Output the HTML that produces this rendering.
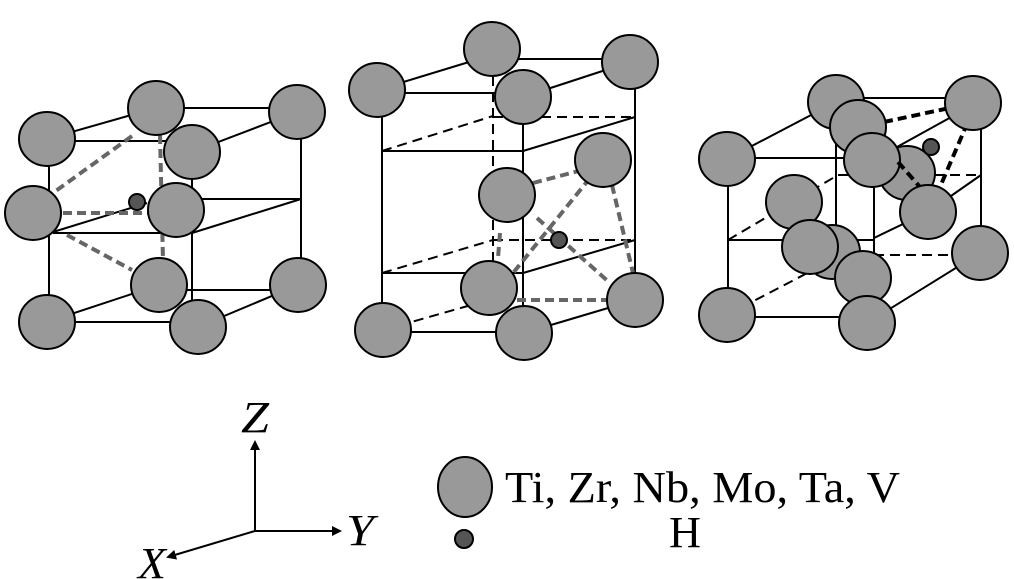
<!DOCTYPE html>
<html><head><meta charset="utf-8"><style>html,body{margin:0;padding:0;background:#fff}svg{display:block}</style></head>
<body>
<svg width="1014" height="579" viewBox="0 0 1014 579" xmlns="http://www.w3.org/2000/svg">
<defs>
<marker id="ah" markerWidth="10" markerHeight="10" refX="8" refY="5" orient="auto" markerUnits="userSpaceOnUse"><path d="M0,0 L10,5 L0,10 z" fill="#000"/></marker>
</defs>
<g fill="#999" stroke="#000" stroke-width="2">
<!-- LEFT -->
<g fill="none" stroke="#000" stroke-width="2">
<line x1="49" y1="139" x2="49" y2="322"/><line x1="192" y1="152" x2="192" y2="327"/><line x1="301" y1="112" x2="301" y2="285"/>
<line x1="47" y1="141" x2="192" y2="141"/><line x1="47" y1="139" x2="156" y2="108"/><line x1="156" y1="108" x2="297" y2="108"/><line x1="192" y1="152" x2="297" y2="112"/>
<line x1="53" y1="233" x2="192" y2="233"/><line x1="192" y1="233" x2="301" y2="199"/><line x1="176" y1="199" x2="301" y2="199"/><line x1="53" y1="232" x2="147" y2="203"/>
<line x1="47" y1="322" x2="198" y2="322"/><line x1="47" y1="322" x2="159" y2="285"/><line x1="159" y1="290" x2="298" y2="290"/><line x1="198" y1="327" x2="298" y2="285"/>
</g>
<g fill="none" stroke="#666" stroke-width="4" stroke-dasharray="9 5">
<line x1="132" y1="136" x2="53" y2="193"/><line x1="160" y1="135" x2="163" y2="260"/><line x1="63" y1="213" x2="150" y2="213"/><line x1="67" y1="235" x2="132" y2="270"/>
</g>
<ellipse cx="156" cy="108" rx="28" ry="27"/><ellipse cx="297" cy="112" rx="28" ry="27"/><ellipse cx="47" cy="139" rx="28" ry="27"/><ellipse cx="192" cy="152" rx="28" ry="27"/>
<ellipse cx="33" cy="213" rx="28" ry="27"/><ellipse cx="176" cy="210" rx="28" ry="27"/><circle cx="137" cy="202" r="8" fill="#555"/>
<ellipse cx="159" cy="285" rx="28" ry="27"/><ellipse cx="298" cy="285" rx="28" ry="27"/><ellipse cx="47" cy="322" rx="28" ry="27"/><ellipse cx="198" cy="327" rx="28" ry="27"/>
<!-- MIDDLE -->
<g fill="none" stroke="#000" stroke-width="2">
<line x1="382" y1="90" x2="382" y2="330"/><line x1="523" y1="97" x2="523" y2="333"/><line x1="635" y1="62" x2="635" y2="300"/>
<line x1="377" y1="93" x2="523" y2="93"/><line x1="377" y1="90" x2="492" y2="55"/><line x1="492" y1="59" x2="630" y2="59"/><line x1="523" y1="97" x2="630" y2="62"/>
<line x1="382" y1="151" x2="523" y2="151"/><line x1="523" y1="151" x2="635" y2="117"/>
<line x1="382" y1="273" x2="523" y2="273"/><line x1="523" y1="273" x2="635" y2="240"/>
<line x1="383" y1="332" x2="524" y2="332"/><line x1="524" y1="333" x2="635" y2="300"/>
</g>
<g fill="none" stroke="#000" stroke-width="2" stroke-dasharray="10 6">
<line x1="382" y1="151" x2="493" y2="116"/><line x1="493" y1="117" x2="635" y2="117"/><line x1="493" y1="76" x2="493" y2="262"/>
<line x1="382" y1="273" x2="493" y2="240"/><line x1="493" y1="240" x2="635" y2="240"/><line x1="383" y1="330" x2="489" y2="300"/>
</g>
<g fill="none" stroke="#666" stroke-width="4" stroke-dasharray="9 5">
<line x1="533" y1="183" x2="590" y2="168"/><line x1="590" y1="178" x2="513" y2="273"/><line x1="537" y1="218" x2="610" y2="283"/>
<line x1="612" y1="185" x2="633" y2="273"/><line x1="500" y1="233" x2="498" y2="258"/><line x1="517" y1="300" x2="607" y2="300"/>
</g>
<ellipse cx="492" cy="49" rx="28" ry="27"/><ellipse cx="630" cy="62" rx="28" ry="27"/><ellipse cx="377" cy="90" rx="28" ry="27"/><ellipse cx="523" cy="97" rx="28" ry="27"/>
<ellipse cx="603" cy="160" rx="28" ry="27"/><ellipse cx="507" cy="195" rx="28" ry="27"/><circle cx="559" cy="240" r="8" fill="#555"/>
<ellipse cx="489" cy="288" rx="28" ry="27"/><ellipse cx="635" cy="300" rx="28" ry="27"/><ellipse cx="383" cy="330" rx="28" ry="27"/><ellipse cx="524" cy="333" rx="28" ry="27"/>
<!-- RIGHT -->
<g fill="none" stroke="#000" stroke-width="2">
<line x1="728" y1="159" x2="728" y2="315"/><line x1="836" y1="140" x2="836" y2="240"/><line x1="874" y1="185" x2="874" y2="257"/><line x1="981" y1="103" x2="981" y2="253"/>
<line x1="727" y1="159" x2="836" y2="102"/><line x1="836" y1="98" x2="973" y2="98"/><line x1="727" y1="158" x2="872" y2="158"/><line x1="897" y1="147" x2="973" y2="105"/>
<line x1="728" y1="240" x2="874" y2="240"/><line x1="874" y1="238" x2="928" y2="212"/><line x1="928" y1="212" x2="981" y2="175"/>
<line x1="728" y1="317" x2="867" y2="317"/><line x1="867" y1="323" x2="980" y2="253"/>
</g>
<g fill="none" stroke="#000" stroke-width="2" stroke-dasharray="10 6">
<line x1="728" y1="240" x2="838" y2="175"/><line x1="838" y1="175" x2="978" y2="175"/><line x1="874" y1="255" x2="980" y2="255"/><line x1="727" y1="315" x2="836" y2="258"/>
</g>
<g fill="none" stroke="#000" stroke-width="4" stroke-dasharray="9 5">
<line x1="884" y1="122" x2="973" y2="103"/><line x1="973" y1="110" x2="940" y2="187"/><line x1="890" y1="155" x2="920" y2="190"/>
</g>
<ellipse cx="836" cy="102" rx="28" ry="27"/><ellipse cx="973" cy="103" rx="28" ry="27"/><ellipse cx="727" cy="159" rx="28" ry="27"/>
<ellipse cx="907" cy="173" rx="28" ry="27"/><ellipse cx="858" cy="127" rx="28" ry="27"/><ellipse cx="872" cy="160" rx="28" ry="27"/>
<circle cx="931" cy="147" r="8" fill="#555"/>
<g fill="none" stroke="#000" stroke-width="4" stroke-dasharray="9 5"><line x1="898" y1="162" x2="920" y2="187"/></g>
<ellipse cx="928" cy="212" rx="28" ry="27"/><ellipse cx="794" cy="202" rx="28" ry="27"/>
<ellipse cx="832" cy="252" rx="28" ry="27"/><ellipse cx="810" cy="247" rx="28" ry="27"/><ellipse cx="863" cy="278" rx="28" ry="27"/>
<ellipse cx="980" cy="253" rx="28" ry="27"/><ellipse cx="727" cy="315" rx="28" ry="27"/><ellipse cx="867" cy="323" rx="28" ry="27"/>
<!-- LEGEND -->
<g stroke="#000" stroke-width="2" fill="none">
<line x1="255" y1="531" x2="255" y2="442" marker-end="url(#ah)"/>
<line x1="254" y1="531" x2="340" y2="531" marker-end="url(#ah)"/>
<line x1="255" y1="531" x2="168" y2="557" marker-end="url(#ah)"/>
</g>
<ellipse cx="465" cy="487" rx="27" ry="30"/>
<circle cx="464" cy="539" r="9" fill="#555"/>
</g>
<g font-family="'Liberation Serif', serif" fill="#000">
<text x="241" y="432" font-size="44" font-style="italic" textLength="28" lengthAdjust="spacingAndGlyphs">Z</text>
<text x="346" y="545" font-size="44" font-style="italic" textLength="28" lengthAdjust="spacingAndGlyphs">Y</text>
<text x="138" y="578" font-size="44" font-style="italic" textLength="28" lengthAdjust="spacingAndGlyphs">X</text>
<text x="505" y="502" font-size="44" textLength="395" lengthAdjust="spacingAndGlyphs">Ti, Zr, Nb, Mo, Ta, V</text>
<text x="669" y="547" font-size="44" textLength="32" lengthAdjust="spacingAndGlyphs">H</text>
</g>
</svg>
</body></html>
